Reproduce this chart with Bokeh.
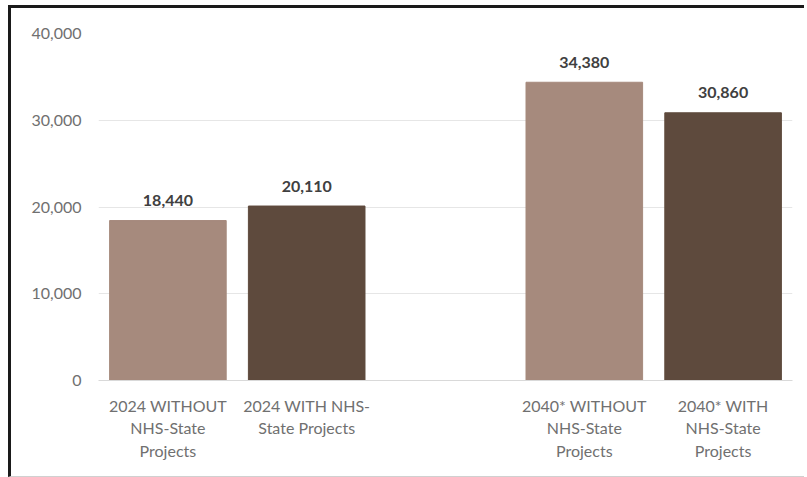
from bokeh.plotting import figure
from bokeh.models import ColumnDataSource, FactorRange, Range1d, LabelSet, NumeralTickFormatter, FixedTicker
from bokeh.core.properties import value
from bokeh.embed import file_html
from bokeh.resources import INLINE

categories = [
    "2024 WITHOUT\nNHS-State\nProjects",
    "2024 WITH NHS-\nState Projects",
    " ",
    "2040* WITHOUT\nNHS-State\nProjects",
    "2040* WITH\nNHS-State\nProjects",
]
bar_categories = [categories[0], categories[1], categories[3], categories[4]]
values = [18440, 20110, 34380, 30860]
value_labels = ["18,440", "20,110", "34,380", "30,860"]
colors = ["#A68A7D", "#5E4A3D", "#A68A7D", "#5E4A3D"]
y_ticks = [0, 10000, 20000, 30000, 40000]

src = ColumnDataSource(dict(x=bar_categories, top=values, lab=value_labels, color=colors))

p = figure(width=796, height=472, x_range=FactorRange(*categories, range_padding=0),
           y_range=Range1d(0, 40000), output_backend="svg", toolbar_location=None,
           min_border_left=87, min_border_right=15, min_border_top=25, min_border_bottom=100)
p.styles = {"border-left": "3px solid #1a1a1a", "border-top": "3px solid #1a1a1a",
            "border-bottom": "1px solid #d0d0d0", "margin-left": "8px", "margin-top": "5px"}
p.outline_line_color = None
p.background_fill_color = "white"

p.vbar(x="x", top="top", width=0.84, color="color", source=src)

labels = LabelSet(x="x", y="top", text="lab", source=src, text_align="center",
                  text_baseline="middle", y_offset=20, text_font=value("Lato"),
                  text_font_style="bold", text_font_size="16px", text_color="#404040")
p.add_layout(labels)

p.xgrid.grid_line_color = None
p.ygrid.grid_line_color = "#e6e6e6"
p.ygrid.grid_line_width = 1

p.yaxis.ticker = FixedTicker(ticks=y_ticks)
p.yaxis.formatter = NumeralTickFormatter(format="0,0")
p.yaxis.axis_line_color = None
p.yaxis.major_tick_line_color = None
p.yaxis.minor_tick_line_color = None
p.yaxis.major_label_text_font = "Lato"
p.yaxis.major_label_text_font_size = "16px"
p.yaxis.major_label_text_color = "#707070"
p.yaxis.major_label_standoff = 11

p.xaxis.axis_line_color = "#d9d9d9"
p.xaxis.major_tick_line_color = None
p.xaxis.minor_tick_line_color = None
p.xaxis.major_label_text_font = "Lato"
p.xaxis.major_label_text_font_size = "16px"
p.xaxis.major_label_text_color = "#707070"
p.xaxis.major_label_text_line_height = 1.2
p.xaxis.major_label_standoff = 9

open("out.html", "w").write(file_html(p, INLINE))
